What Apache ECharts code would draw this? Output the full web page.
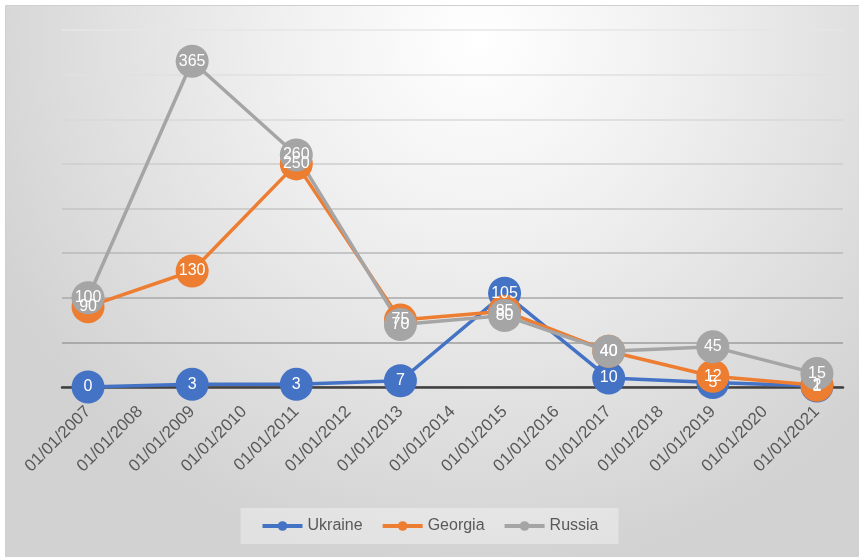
<!DOCTYPE html>
<html>
<head>
<meta charset="utf-8">
<script src="https://cdn.jsdelivr.net/npm/echarts@6/dist/echarts.min.js"></script>
<style>
html,body{margin:0;padding:0;background:#fff;}
#chart{width:859px;height:557px;}
</style>
</head>
<body>
<div id="chart"></div>
<script>
const categories = ['01/01/2007','01/01/2008','01/01/2009','01/01/2010','01/01/2011','01/01/2012','01/01/2013','01/01/2014','01/01/2015','01/01/2016','01/01/2017','01/01/2018','01/01/2019','01/01/2020','01/01/2021'];
const ukraine = [0, null, 3, null, 3, null, 7, null, 105, null, 10, null, 5, null, 1];
const georgia = [90, null, 130, null, 250, null, 75, null, 85, null, 40, null, 12, null, 2];
const russia  = [100, null, 365, null, 260, null, 70, null, 80, null, 40, null, 45, null, 15];

const chart = echarts.init(document.getElementById('chart'), null, {renderer: 'canvas'});
const labelFont = '"Liberation Sans Narrow", "Liberation Sans", Arial, sans-serif';
function mkSeries(name, data, color) {
  return {
    name: name,
    type: 'line',
    data: data,
    connectNulls: true,
    symbol: 'circle',
    symbolSize: 33,
    lineStyle: {width: 3.5, color: color},
    itemStyle: {color: color},
    label: {
      show: true,
      position: 'inside',
      color: '#ffffff',
      fontSize: 16,
      fontFamily: labelFont
    },
    emphasis: {disabled: true},
    animation: false
  };
}
chart.setOption({
  animation: false,
  backgroundColor: '#ffffff',
  color: ['#4472C4', '#ED7D31', '#A5A5A5'],
  graphic: [{
    type: 'rect',
    z: -100,
    silent: true,
    shape: {x: 5.5, y: 5.5, width: 860, height: 560},
    style: {
      fill: new echarts.graphic.RadialGradient(0.55, 0.06, 0.95, [
        {offset: 0, color: '#ffffff'},
        {offset: 0.35, color: '#f1f1f1'},
        {offset: 1, color: '#d2d2d2'}
      ]),
      stroke: '#d0d0d0',
      lineWidth: 1
    }
  }],
  grid: {left: 62, right: 16, top: 30, bottom: 170, containLabel: false},
  xAxis: {
    type: 'category',
    data: categories,
    boundaryGap: true,
    axisLine: {show: true, onZero: true, lineStyle: {color: '#404040', width: 2.5}},
    axisTick: {show: false},
    axisLabel: {
      rotate: 45,
      interval: 0,
      margin: 22,
      color: '#595959',
      fontSize: 17,
      fontFamily: labelFont
    },
    splitLine: {show: false}
  },
  yAxis: {
    type: 'value',
    min: 0,
    max: 400,
    interval: 50,
    axisLine: {show: false},
    axisTick: {show: false},
    axisLabel: {show: false},
    splitLine: {show: true, lineStyle: {width: 1.5, color: ['#888888','#9c9c9c','#a8a8a8','#b8b8b8','#c4c4c4','#cecece','#d8d8d8','#e0e0e0','#e6e6e6']}}
  },
  legend: {
    bottom: 13,
    left: 'center',
    itemWidth: 40,
    itemHeight: 12,
    itemGap: 18,
    padding: [10, 20],
    backgroundColor: 'rgba(255,255,255,0.35)',
    lineStyle: {width: 4},
    textStyle: {color: '#595959', fontSize: 16, fontFamily: labelFont},
    data: ['Ukraine', 'Georgia', 'Russia']
  },
  series: [
    mkSeries('Ukraine', ukraine, '#4472C4'),
    mkSeries('Georgia', georgia, '#ED7D31'),
    mkSeries('Russia', russia, '#A5A5A5')
  ]
});
</script>
</body>
</html>
